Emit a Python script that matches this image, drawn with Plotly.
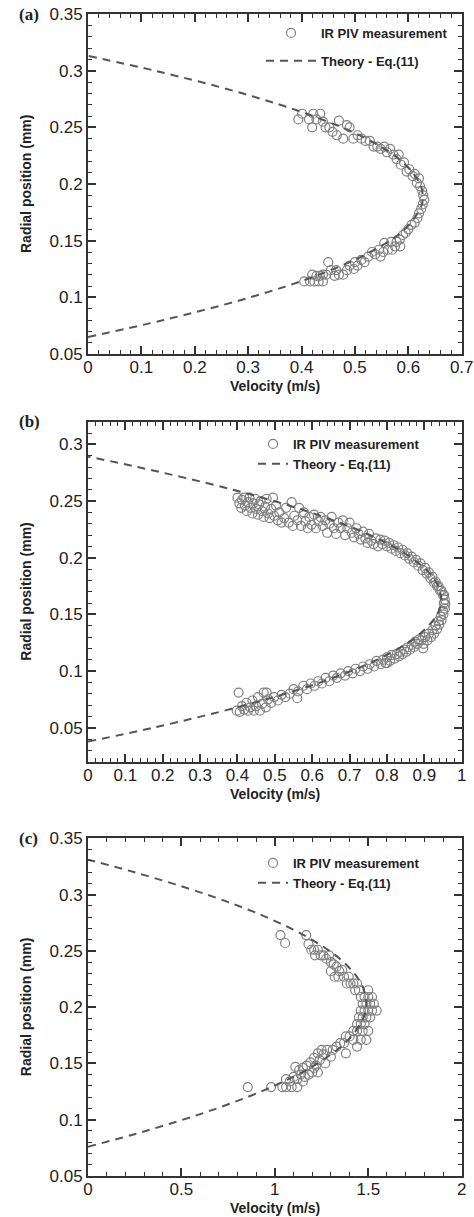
import plotly.graph_objects as go

W, H = 474, 1217

# ---------------- Panel (a) data ----------------
a_meas_v = [0.394,0.401,0.414,0.422,0.420,0.435,0.428,0.440,0.445,0.452,0.458,0.466,0.470,0.478,0.485,0.490,0.497,0.505,0.512,0.520,
            0.528,0.535,0.542,0.548,0.555,0.560,0.566,0.572,0.578,0.582,0.586,0.592,0.597,0.602,0.608,0.612,0.616,0.620,0.622,0.626,
            0.628,0.630,0.627,0.624,0.620,0.617,0.612,0.606,0.600,0.595,0.590,0.584,0.578,0.575,0.568,0.562,0.555,0.553,0.548,0.545,
            0.538,0.532,0.525,0.518,0.512,0.505,0.500,0.498,0.490,0.485,0.478,0.470,0.465,0.462,0.455,0.450,0.446,0.440,0.434,0.428,
            0.420,0.432,0.424,0.416,0.405,0.440,0.570,0.585]
a_meas_r = [0.257,0.262,0.257,0.262,0.250,0.262,0.257,0.255,0.250,0.250,0.246,0.243,0.256,0.240,0.252,0.250,0.240,0.243,0.240,0.238,
            0.238,0.233,0.233,0.231,0.233,0.228,0.231,0.226,0.222,0.226,0.217,0.219,0.211,0.213,0.207,0.209,0.201,0.205,0.198,0.194,
            0.190,0.186,0.182,0.178,0.174,0.170,0.166,0.164,0.160,0.157,0.155,0.151,0.149,0.145,0.149,0.142,0.148,0.140,0.136,0.142,
            0.138,0.140,0.136,0.131,0.133,0.128,0.131,0.125,0.128,0.124,0.120,0.120,0.124,0.119,0.124,0.131,0.120,0.120,0.119,0.119,
            0.120,0.114,0.114,0.114,0.114,0.114,0.142,0.145]
a_theory_v = [0.0, 0.142, 0.304, 0.433, 0.529, 0.593, 0.624, 0.627, 0.622, 0.588, 0.521, 0.421, 0.289, 0.125, 0.0]
a_theory_r = [0.065, 0.080, 0.100, 0.120, 0.140, 0.160, 0.180, 0.189, 0.200, 0.220, 0.240, 0.260, 0.280, 0.300, 0.313]

# ---------------- Panel (b) data ----------------
b_meas_v = [0.400,0.405,0.410,0.412,0.418,0.420,0.425,0.428,0.432,0.435,0.440,0.442,0.447,0.450,0.455,0.458,0.462,0.466,0.470,0.474,
            0.478,0.482,0.486,0.490,0.495,0.498,0.503,0.508,0.512,0.518,0.525,0.530,0.537,0.545,0.548,0.552,0.560,0.565,0.570,0.578,
            0.582,0.588,0.592,0.598,0.605,0.610,0.617,0.622,0.628,0.635,0.640,0.646,0.652,0.658,0.664,0.670,0.676,0.682,0.688,0.694,
            0.700,0.706,0.712,0.718,0.724,0.730,0.736,0.742,0.748,0.752,0.758,0.764,0.770,0.776,
            0.782,0.788,0.794,0.800,0.806,0.812,0.818,0.824,0.830,0.836,0.842,0.848,0.854,0.860,0.866,0.872,0.878,0.884,0.890,0.896,
            0.902,0.906,0.912,0.916,0.922,0.926,0.930,0.934,0.938,0.942,0.946,0.950,0.953,0.955,0.956,0.952,0.955,0.950,0.951,0.944,
            0.946,0.938,0.940,0.930,0.934,0.922,0.926,0.912,0.918,0.902,0.908,0.892,0.898,0.882,0.886,0.872,0.876,0.862,0.866,0.852,
            0.856,0.842,0.846,0.832,0.836,0.820,0.826,0.808,0.812,0.796,0.800,0.784,0.790,0.772,0.766,0.754,0.748,0.736,0.728,0.716,
            0.708,0.696,0.688,0.676,0.666,0.656,0.646,0.636,0.626,0.616,0.606,0.596,0.586,0.576,0.562,0.550,0.540,0.528,0.518,0.508,
            0.498,0.490,0.482,0.476,0.470,0.466,0.460,0.455,0.450,0.444,0.440,0.434,0.428,0.424,0.418,0.412,0.406,0.403,0.398,0.560,
            0.478,0.800,0.897]
b_meas_r = [0.253,0.248,0.244,0.251,0.253,0.246,0.241,0.249,0.253,0.244,0.239,0.248,0.252,0.243,0.238,0.247,0.250,0.241,0.236,0.245,
            0.252,0.239,0.235,0.243,0.253,0.237,0.246,0.233,0.240,0.231,0.235,0.244,0.231,0.249,0.228,0.237,0.233,0.244,0.228,0.240,
            0.232,0.226,0.236,0.229,0.238,0.226,0.232,0.236,0.228,0.233,0.222,0.230,0.236,0.226,0.221,0.231,0.226,0.233,0.220,0.226,
            0.231,0.222,0.218,0.226,0.221,0.216,0.223,0.217,0.213,0.221,0.215,0.212,0.217,0.210,
            0.216,0.212,0.215,0.210,0.213,0.208,0.211,0.206,0.209,0.204,0.207,0.202,0.204,0.199,0.201,0.196,0.198,0.193,0.195,0.189,
            0.191,0.186,0.187,0.182,0.183,0.178,0.179,0.175,0.175,0.171,0.171,0.167,0.167,0.163,0.159,0.160,0.155,0.153,0.150,0.148,
            0.145,0.144,0.141,0.140,0.137,0.136,0.133,0.133,0.130,0.130,0.127,0.127,0.124,0.124,0.128,0.121,0.126,0.119,0.123,0.117,
            0.121,0.115,0.119,0.113,0.117,0.111,0.115,0.109,0.114,0.107,0.112,0.106,0.110,0.109,0.104,0.106,0.102,0.104,0.100,0.102,
            0.098,0.100,0.096,0.098,0.094,0.096,0.091,0.094,0.089,0.091,0.087,0.089,0.084,0.087,0.082,0.084,0.080,0.077,0.079,0.074,
            0.077,0.072,0.075,0.068,0.081,0.071,0.065,0.077,0.069,0.065,0.074,0.068,0.065,0.072,0.066,0.069,0.064,0.081,0.065,0.076,
            0.081,0.107,0.120]
b_theory_v = [0.0, 0.175, 0.422, 0.622, 0.774, 0.878, 0.934, 0.945, 0.929, 0.865, 0.754, 0.595, 0.388, 0.133, 0.0]
b_theory_r = [0.0378, 0.050, 0.070, 0.090, 0.110, 0.130, 0.150, 0.1635, 0.180, 0.200, 0.220, 0.240, 0.260, 0.280, 0.2892]

# ---------------- Panel (c) data ----------------
c_meas_v = [1.030,1.055,0.855,0.980,1.168,
            1.180,1.195,1.210,1.230,1.215,1.245,1.260,1.275,1.290,1.300,1.315,1.330,1.300,1.320,1.345,1.360,1.340,1.370,1.395,1.385,
            1.405,1.420,1.430,1.450,1.440,1.460,1.480,1.500,1.520,1.470,1.490,1.510,1.530,1.460,1.480,1.500,1.520,1.545,1.500,1.490,
            1.470,1.450,1.510,
            1.460,1.440,1.480,1.420,1.440,1.470,1.500,1.400,1.380,1.420,1.460,1.490,1.350,1.370,1.330,1.440,1.310,1.280,1.250,1.230,
            1.260,1.300,1.380,1.210,1.240,1.270,1.190,1.220,1.170,1.150,1.200,1.230,1.130,1.110,1.180,1.160,1.140,1.120,1.100,1.080,
            1.060,1.120,1.090,1.060,1.040,1.150,1.210]
c_meas_r = [0.264,0.257,0.129,0.129,0.264,
            0.256,0.251,0.251,0.251,0.246,0.246,0.246,0.243,0.246,0.240,0.238,0.236,0.232,0.227,0.232,0.233,0.227,0.227,0.227,0.221,
            0.221,0.221,0.215,0.215,0.221,0.209,0.209,0.209,0.209,0.203,0.203,0.203,0.203,0.197,0.197,0.197,0.197,0.197,0.215,0.191,
            0.191,0.191,0.191,
            0.185,0.185,0.185,0.179,0.179,0.179,0.179,0.174,0.174,0.171,0.171,0.171,0.168,0.168,0.165,0.165,0.162,0.162,0.162,0.159,
            0.158,0.156,0.159,0.155,0.153,0.150,0.151,0.148,0.148,0.146,0.142,0.142,0.144,0.147,0.140,0.138,0.140,0.136,0.138,0.134,
            0.136,0.129,0.129,0.129,0.129,0.134,0.146]
c_theory_v = [0.0, 0.309, 0.689, 0.995, 1.228, 1.387, 1.473, 1.490, 1.465, 1.368, 1.197, 0.954, 0.636, 0.246, 0.0]
c_theory_r = [0.076, 0.090, 0.110, 0.130, 0.150, 0.170, 0.190, 0.2035, 0.220, 0.240, 0.260, 0.280, 0.300, 0.320, 0.331]

meas_name = "IR PIV measurement"
theory_name = "Theory - Eq.(11)"
panel_labels = ["(a)", "(b)", "(c)"]
x_title = "Velocity (m/s)"
y_title = "Radial position (mm)"

# ---------------- layout geometry (pixels) ----------------
px_left, px_right = 88, 461.7
panels_px = [(14, 354), (421.7, 761.7), (838.3, 1176)]
xranges = [[0, 0.7], [0, 1.0], [0, 2.0]]
yranges = [[0.05, 0.35], [0.02, 0.32], [0.05, 0.35]]
xdticks = [(0.1, 0.02), (0.1, 0.02), (0.5, 0.1)]
legend_pos = [(261, 18), (253, 429), (253, 848)]
legend_itemwidth = [50, 30, 30]

def fy(p):
    return 1 - p / H

def fx(p):
    return p / W

TICKFONT = dict(family="Arial, Liberation Sans, sans-serif", size=17, color="#222")
AXCOL = "#333"

fig = go.Figure()
datasets = [(a_meas_v, a_meas_r, a_theory_v, a_theory_r),
            (b_meas_v, b_meas_r, b_theory_v, b_theory_r),
            (c_meas_v, c_meas_r, c_theory_v, c_theory_r)]

layout = dict(template="none", width=W, height=H, margin=dict(l=0, r=0, t=0, b=0, autoexpand=False),
              paper_bgcolor="white", plot_bgcolor="white", showlegend=True)
annotations = []
for i, (mv, mr, tv, tr) in enumerate(datasets):
    n = "" if i == 0 else str(i + 1)
    xa, ya = "x" + n, "y" + n
    leg = "legend" + n
    fig.add_trace(go.Scatter(x=mv, y=mr, mode="markers", name=meas_name, xaxis=xa, yaxis=ya,
                             legend=leg, legendrank=1, legendgroup="m" + n,
                             marker=dict(symbol="circle-open", size=9, color="#808080", line=dict(width=1.2))))
    fig.add_trace(go.Scatter(x=tv, y=tr, mode="lines", name=theory_name, xaxis=xa, yaxis=ya,
                             legend=leg, legendrank=2, line_shape="spline", legendgroup="t" + n,
                             line=dict(color="#555", width=2, dash="8px,6px")))
    top, bot = panels_px[i]
    major, minor = xdticks[i]
    layout["xaxis" + n] = dict(domain=[fx(px_left), fx(px_right)], range=xranges[i], anchor=ya, automargin=False,
                               showline=True, linecolor=AXCOL, linewidth=2, mirror="allticks",
                               ticks="inside", ticklen=8, tickwidth=1.5, tickcolor=AXCOL,
                               tick0=0, dtick=major, showgrid=False, zeroline=False, tickfont=TICKFONT,
                               ticklabelstandoff=-3,
                               minor=dict(ticks="inside", dtick=minor, ticklen=4, tickwidth=1, tickcolor=AXCOL, showgrid=False))
    layout["yaxis" + n] = dict(domain=[fy(bot), fy(top)], range=yranges[i], anchor=xa, automargin=False,
                               showline=True, linecolor=AXCOL, linewidth=2, mirror="allticks",
                               ticks="inside", ticklen=8, tickwidth=1.5, tickcolor=AXCOL,
                               tick0=0, dtick=0.05, showgrid=False, zeroline=False, tickfont=TICKFONT,
                               minor=dict(ticks="inside", dtick=0.01, ticklen=4, tickwidth=1, tickcolor=AXCOL, showgrid=False))
    lx, ly = legend_pos[i]
    layout[leg] = dict(x=fx(lx), y=fy(ly), xanchor="left", yanchor="top", bgcolor="rgba(0,0,0,0)",
                       itemwidth=legend_itemwidth[i], traceorder="grouped",
                       tracegroupgap=(8 if i == 0 else 0),
                       font=dict(family="Arial, Liberation Sans, sans-serif", size=13, color="#222", weight="bold"))
    # panel label
    annotations.append(dict(text="<b>" + panel_labels[i] + "</b>", x=fx(17), y=fy(top), xref="paper", yref="paper",
                            xanchor="left", yanchor="middle", showarrow=False,
                            font=dict(family="Liberation Serif, Times New Roman, serif", size=17, color="#222")))
    # axis titles
    annotations.append(dict(text="<b>" + x_title + "</b>", x=fx((px_left + px_right) / 2), y=fy(bot + 32),
                            xref="paper", yref="paper", xanchor="center", yanchor="middle", showarrow=False,
                            font=dict(family="Arial, Liberation Sans, sans-serif", size=14, color="#222")))
    annotations.append(dict(text="<b>" + y_title + "</b>", x=fx(26), y=fy((top + bot) / 2),
                            xref="paper", yref="paper", xanchor="center", yanchor="middle", showarrow=False,
                            textangle=-90,
                            font=dict(family="Arial, Liberation Sans, sans-serif", size=14, color="#222")))

layout["annotations"] = annotations
fig.update_layout(**layout)
fig.write_html("out.html", config={"displayModeBar": False},
               post_script="document.body.style.margin='0';document.body.style.overflow='hidden';")
